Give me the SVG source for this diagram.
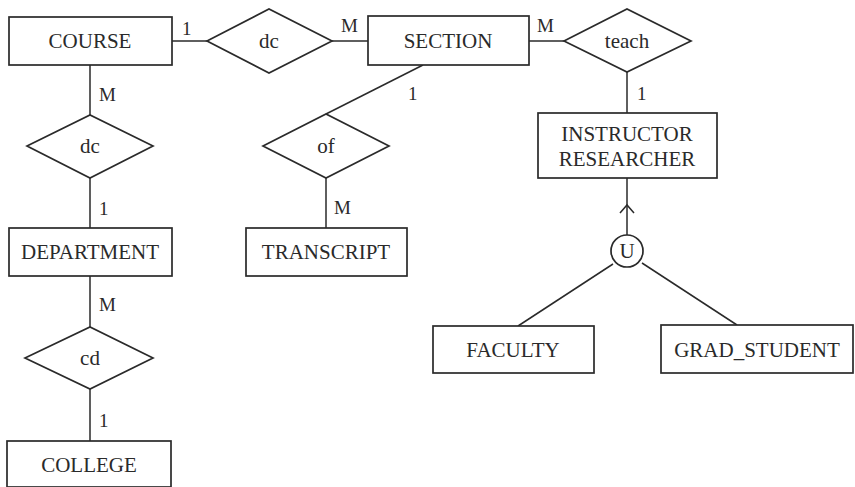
<svg xmlns="http://www.w3.org/2000/svg" width="855" height="487" viewBox="0 0 855 487">
  <style>
    .box { fill: #fff; stroke: #2a2a2a; stroke-width: 1.7; }
    .rel { fill: #fff; stroke: #2a2a2a; stroke-width: 1.7; }
    .edge { fill: none; stroke: #2a2a2a; stroke-width: 1.5; }
    text { font-family: "Liberation Serif", "Times New Roman", serif; fill: #2a2a2a; }
    .name { font-size: 21px; text-anchor: middle; }
    .card { font-size: 19px; }
  </style>
  <rect width="855" height="487" fill="#fff"/>

  <g id="connectors">
    <line class="edge" x1="172" y1="41" x2="207" y2="41"/>
    <line class="edge" x1="332" y1="41" x2="368" y2="41"/>
    <line class="edge" x1="529" y1="41" x2="564" y2="41"/>
    <line class="edge" x1="627" y1="72" x2="627" y2="113"/>
    <line class="edge" x1="90" y1="65" x2="90" y2="115"/>
    <line class="edge" x1="90" y1="178" x2="90" y2="228"/>
    <line class="edge" x1="90" y1="276" x2="90" y2="327"/>
    <line class="edge" x1="90" y1="389" x2="90" y2="441"/>
    <line class="edge" x1="423" y1="65" x2="326" y2="114"/>
    <line class="edge" x1="326" y1="178" x2="326" y2="228"/>
    <line class="edge" x1="627" y1="178" x2="627" y2="235"/>
    <polyline class="edge" points="620,213 627,205 634,213"/>
    <line class="edge" x1="613" y1="264" x2="518" y2="326"/>
    <line class="edge" x1="642" y1="263" x2="737" y2="325"/>
    <text class="card" x="182" y="35">1</text>
    <text class="card" x="341" y="32">M</text>
    <text class="card" x="537" y="32">M</text>
    <text class="card" x="637" y="100">1</text>
    <text class="card" x="99" y="101">M</text>
    <text class="card" x="99" y="215">1</text>
    <text class="card" x="99" y="311">M</text>
    <text class="card" x="99" y="427">1</text>
    <text class="card" x="408" y="100">1</text>
    <text class="card" x="334" y="214">M</text>
  </g>

  <g id="course">
    <rect class="box" x="9" y="17" width="163" height="48"/>
    <text class="name" x="90" y="48">COURSE</text>
  </g>
  <g id="rel-dc-top">
    <polygon class="rel" points="207,41 269,9 332,41 269,73"/>
    <text class="name" x="269" y="48">dc</text>
  </g>
  <g id="section">
    <rect class="box" x="368" y="16" width="161" height="49"/>
    <text class="name" x="448" y="48">SECTION</text>
  </g>
  <g id="rel-teach">
    <polygon class="rel" points="564,41 627,9 691,41 627,72"/>
    <text class="name" x="627" y="48">teach</text>
  </g>
  <g id="instructor-researcher">
    <rect class="box" x="538" y="113" width="179" height="65"/>
    <text class="name" x="627" y="141">INSTRUCTOR</text>
    <text class="name" x="627" y="166">RESEARCHER</text>
  </g>
  <g id="rel-dc-left">
    <polygon class="rel" points="27,146 90,115 153,146 90,178"/>
    <text class="name" x="90" y="153">dc</text>
  </g>
  <g id="department">
    <rect class="box" x="9" y="228" width="163" height="48"/>
    <text class="name" x="90" y="259">DEPARTMENT</text>
  </g>
  <g id="rel-cd">
    <polygon class="rel" points="25,358 90,327 153,358 90,389"/>
    <text class="name" x="90" y="365">cd</text>
  </g>
  <g id="college">
    <rect class="box" x="7" y="441" width="164" height="46"/>
    <text class="name" x="89" y="472">COLLEGE</text>
  </g>
  <g id="rel-of">
    <polygon class="rel" points="263,146 326,114 389,146 326,178"/>
    <text class="name" x="326" y="153">of</text>
  </g>
  <g id="transcript">
    <rect class="box" x="246" y="228" width="161" height="48"/>
    <text class="name" x="326" y="259">TRANSCRIPT</text>
  </g>
  <g id="union">
    <circle class="rel" cx="627" cy="251" r="16"/>
    <text class="name" x="627" y="258">U</text>
  </g>
  <g id="faculty">
    <rect class="box" x="433" y="326" width="161" height="47"/>
    <text class="name" x="513" y="357">FACULTY</text>
  </g>
  <g id="grad-student">
    <rect class="box" x="661" y="325" width="192" height="48"/>
    <text class="name" x="757" y="357">GRAD_STUDENT</text>
  </g>
</svg>
